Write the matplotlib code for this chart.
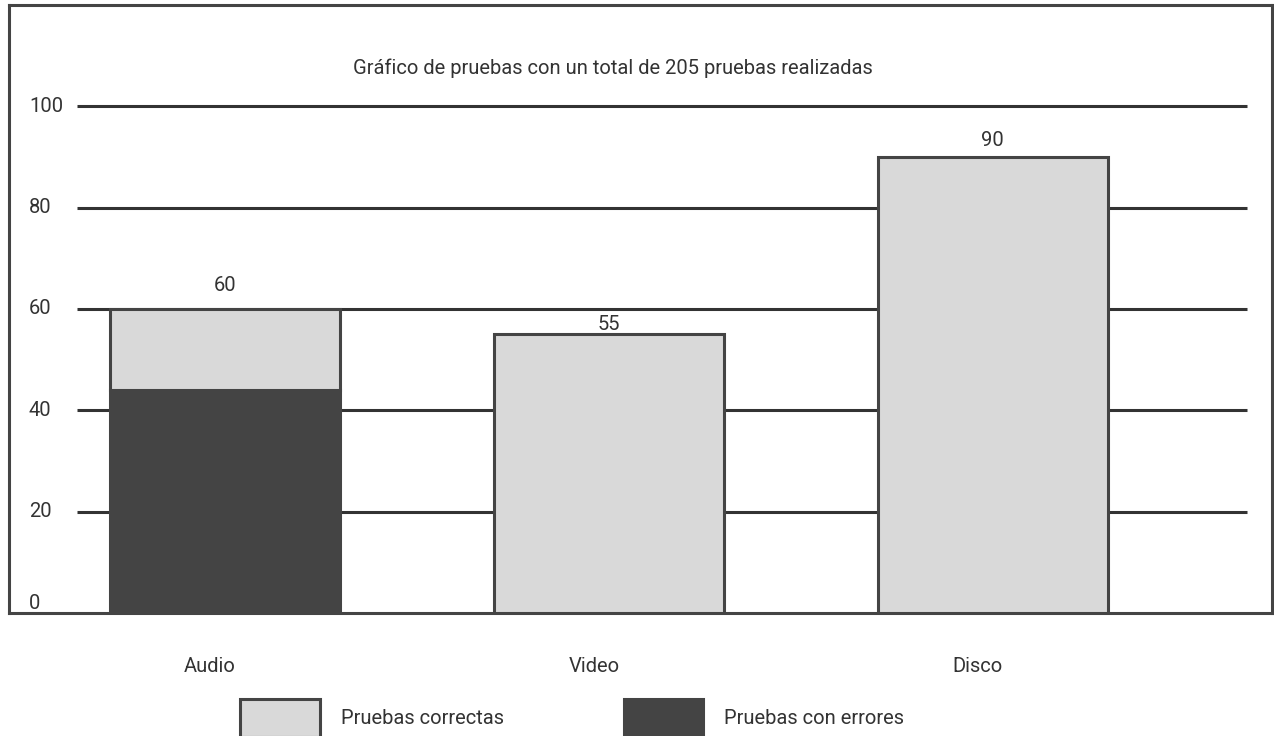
import matplotlib
matplotlib.use("Agg")
import matplotlib.pyplot as plt
from matplotlib.transforms import ScaledTranslation, blended_transform_factory
from matplotlib.patches import Patch
import numpy as np

plt.rcParams['font.family'] = ['Roboto', 'DejaVu Sans']

categories = ["Audio", "Video", "Disco"]
errores = [44, 0, 0]
correctas = [16, 55, 90]
totales = [60, 55, 90]
yticks = [0, 20, 40, 60, 80, 100]
title = "Gráfico de pruebas con un total de 205 pruebas realizadas"
legend_labels = ["Pruebas correctas", "Pruebas con errores"]

LIGHT = "#d9d9d9"
DARK = "#444444"
TXT = "#333333"
FS = 14.5

fig = plt.figure(figsize=(12.74, 7.36), dpi=100)
ax = fig.add_axes([9/1274, 1 - 613/736, 1263/1274, 608/736])
x = np.arange(len(categories))

ax.set_xlim(-0.5625, 2.727)
ax.set_ylim(0, 120)

# gridlines
ax.hlines(yticks[1:], -0.385, 2.661, color="#333333", lw=2.2, zorder=1)

ax.bar(x, errores, width=0.6, color=DARK, edgecolor=DARK, lw=2.2, zorder=2)
ax.bar(x, correctas, width=0.6, bottom=errores, color=LIGHT, edgecolor=DARK, lw=2.2, zorder=3)

offsets = [10, 0, 5]
for xi, tot, off in zip(x, totales, offsets):
    ax.annotate(str(tot), (xi, tot), xytext=(0, off), textcoords="offset points",
                ha="center", va="bottom", fontsize=FS, color=TXT)

trans = blended_transform_factory(ax.transAxes, ax.transData)
for t in yticks:
    ax.text(0.0158, t, str(t), transform=trans, ha="left",
            va="bottom" if t == 0 else "center", fontsize=FS, color=TXT)

ax.set_yticks([])
ax.set_xticks(x)
ax.set_xticklabels(categories, fontsize=FS, color=TXT)
ax.tick_params(axis="x", length=0, pad=32)
for lab in ax.get_xticklabels():
    lab.set_transform(lab.get_transform() + ScaledTranslation(-0.15, 0, fig.dpi_scale_trans))

for s in ax.spines.values():
    s.set_color(DARK)
    s.set_linewidth(2.2)

ax.text(0.478, 0.896, title, transform=ax.transAxes, ha="center", va="center",
        fontsize=FS, color=TXT)

handles = [Patch(facecolor=LIGHT, edgecolor=DARK, lw=2.2),
           Patch(facecolor=DARK, edgecolor=DARK, lw=2.2)]
fig.legend(handles, legend_labels, loc="center", bbox_to_anchor=(0.449, 18/736),
           ncol=2, frameon=False, fontsize=FS, handlelength=3.97, handleheight=2.53,
           handletextpad=1.04, columnspacing=5.96, labelcolor=TXT)

fig.savefig("out.png", dpi=100, facecolor="white")
